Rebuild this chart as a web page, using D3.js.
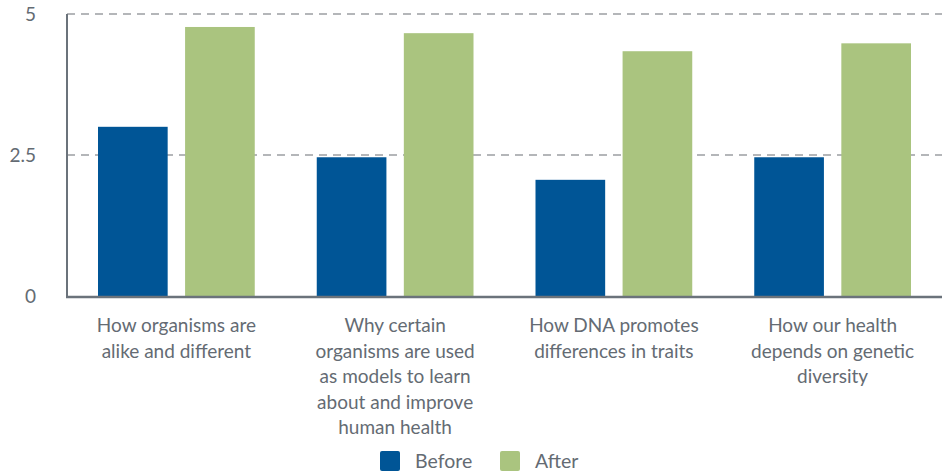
<!DOCTYPE html>
<html>
<head>
<meta charset="utf-8">
<script src="https://cdn.jsdelivr.net/npm/d3@7"></script>
<style>
  body { margin: 0; background: #fff; }
  text { font-family: Lato, "Open Sans", sans-serif; }
</style>
</head>
<body>
<svg></svg>
<script>
var categories = [
  ["How organisms are", "alike and different"],
  ["Why certain", "organisms are used", "as models to learn", "about and improve", "human health"],
  ["How DNA promotes", "differences in traits"],
  ["How our health", "depends on genetic", "diversity"]
];
var seriesNames = ["Before", "After"];
var before = [3.0, 2.46, 2.06, 2.46];
var after = [4.77, 4.66, 4.34, 4.48];
var yTicks = [0, 2.5, 5];
var colors = {Before: "#005596", After: "#aac47f"};

var screen = {width: 951, height: 472};
var margins = {top: 14, left: 67, right: 9, bottom: 176};
var width = screen.width - margins.left - margins.right;
var height = screen.height - margins.top - margins.bottom;

var svg = d3.select('svg')
  .attr('width', screen.width)
  .attr('height', screen.height);

var plot = svg.append('g')
  .attr('transform', 'translate(' + margins.left + ',' + margins.top + ')');

var x0 = d3.scaleBand()
  .domain(d3.range(categories.length))
  .range([0, width])
  .padding(0);

var x1 = d3.scaleBand()
  .domain(seriesNames)
  .range([31, x0.bandwidth() - 31])
  .paddingInner(0.2)
  .paddingOuter(0);

var yScale = d3.scaleLinear()
  .domain([0, 5])
  .range([height, 0]);

// grid lines
plot.selectAll('.grid')
  .data(yTicks.filter(function(d){return d > 0}))
  .enter()
  .append('line')
  .attr('x1', 0)
  .attr('x2', width)
  .attr('y1', function(d){return yScale(d)})
  .attr('y2', function(d){return yScale(d)})
  .attr('stroke', '#b4b6b9')
  .attr('stroke-width', 2)
  .attr('stroke-dasharray', '8,6');

// tick labels
plot.selectAll('.ytick')
  .data(yTicks)
  .enter()
  .append('text')
  .attr('x', -31)
  .attr('y', function(d){return yScale(d) + 7})
  .attr('text-anchor', 'end')
  .attr('font-size', '19px')
  .attr('fill', '#646b73')
  .text(function(d){return d});

var rows = categories.map(function(c, i){
  return seriesNames.map(function(s){
    return {i: i, key: s, value: s == "Before" ? before[i] : after[i]};
  });
});

var groups = plot.selectAll('.group')
  .data(rows)
  .enter()
  .append('g')
  .attr('transform', function(d, i){return 'translate(' + x0(i) + ',0)'});

groups.selectAll('rect')
  .data(function(d){return d})
  .enter()
  .append('rect')
  .attr('x', function(d){return x1(d.key)})
  .attr('y', function(d){return yScale(d.value)})
  .attr('width', x1.bandwidth())
  .attr('height', function(d){return height - yScale(d.value)})
  .attr('fill', function(d){return colors[d.key]});

// axes lines
plot.append('line')
  .attr('x1', 0).attr('x2', 0)
  .attr('y1', 0).attr('y2', height + 1)
  .attr('stroke', '#6b737b')
  .attr('stroke-width', 2);
plot.append('line')
  .attr('x1', -1).attr('x2', width)
  .attr('y1', height + 1).attr('y2', height + 1)
  .attr('stroke', '#6b737b')
  .attr('stroke-width', 2.5);

// category labels
categories.forEach(function(lines, i){
  var t = plot.append('text')
    .attr('text-anchor', 'middle')
    .attr('font-size', '19px')
    .attr('fill', '#646b73');
  lines.forEach(function(l, j){
    t.append('tspan')
      .attr('x', x0(i) + x0.bandwidth() / 2)
      .attr('y', height + 36 + j * 25.6)
      .text(l);
  });
});

// legend
var legend = svg.append('g');
var legendX = [380, 500];
seriesNames.forEach(function(s, i){
  legend.append('rect')
    .attr('x', legendX[i])
    .attr('y', 451)
    .attr('width', 20)
    .attr('height', 20)
    .attr('rx', 2)
    .attr('fill', colors[s]);
  legend.append('text')
    .attr('x', legendX[i] + 35)
    .attr('y', 468)
    .attr('font-size', '19.5px')
    .attr('fill', '#646b73')
    .text(s);
});
</script>
</body>
</html>
